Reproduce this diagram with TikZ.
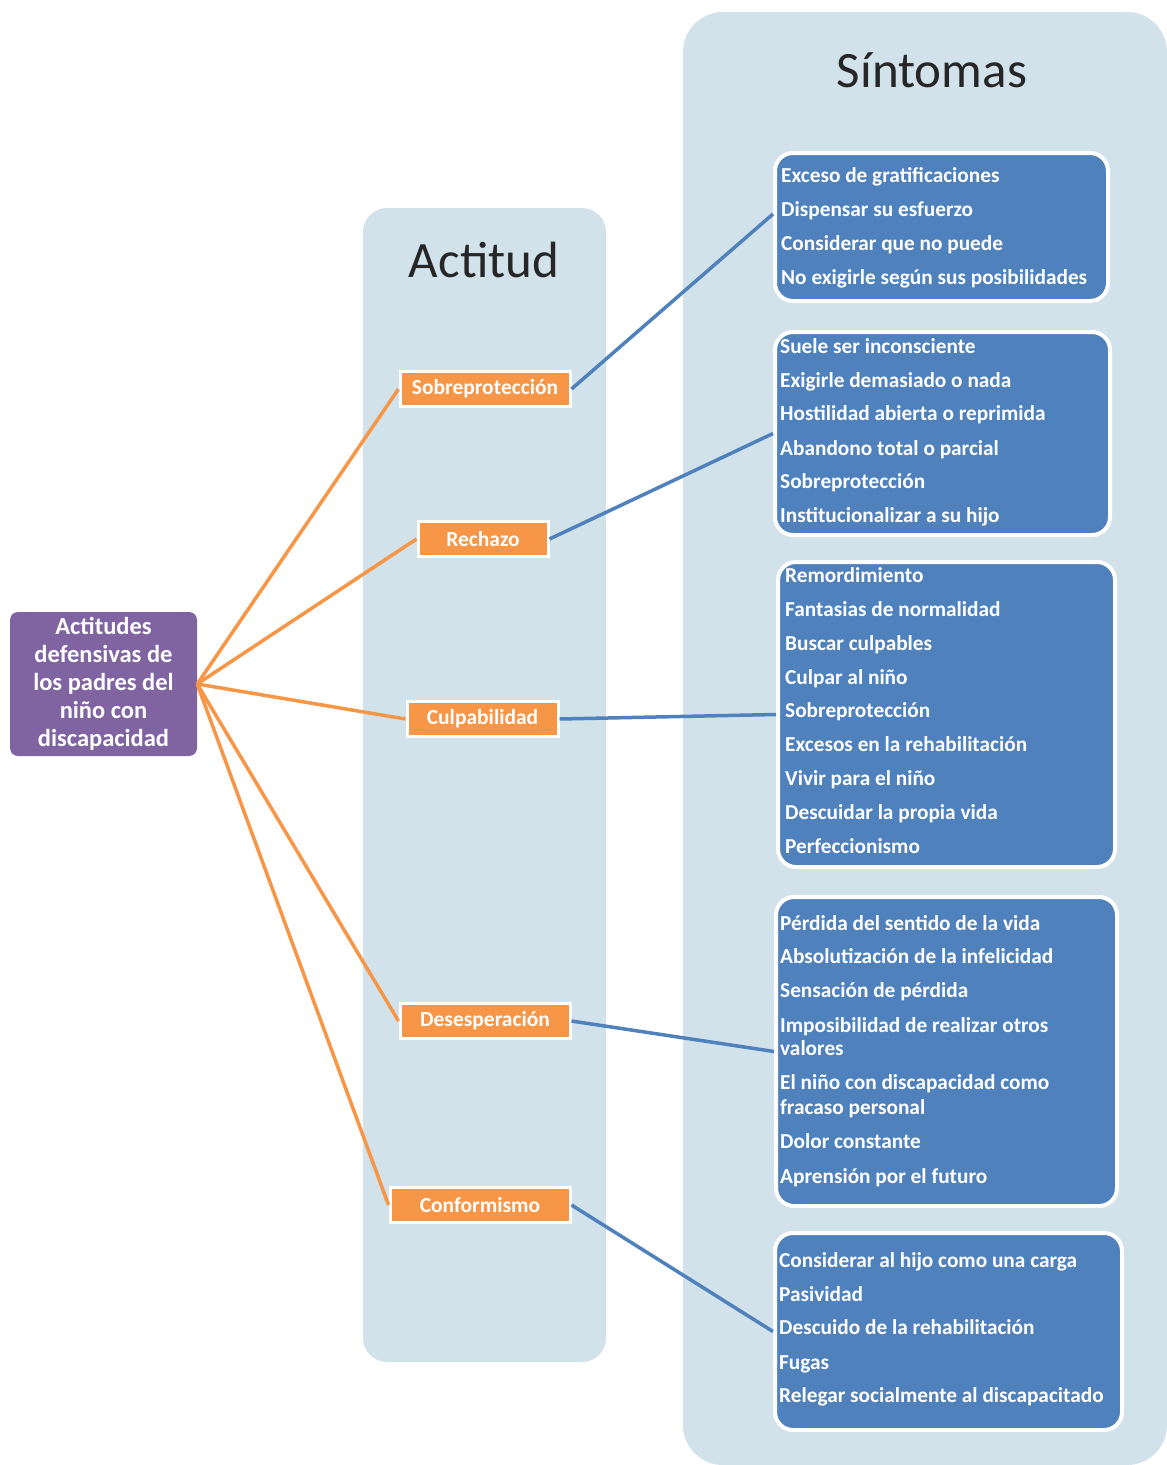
\documentclass[tikz,border=0pt]{standalone}
\usepackage{fontspec}
\setmainfont{Carlito}
\definecolor{panelblue}{RGB}{209,226,234}
\definecolor{rootpurple}{RGB}{128,100,162}
\definecolor{attorange}{RGB}{247,150,70}
\definecolor{symblue}{RGB}{79,129,189}
\begin{document}
\begin{tikzpicture}[x=1pt,y=-1pt,
  panel/.style={fill=panelblue, draw=none},
  paneltitle/.style={font=\fontsize{51}{55}\selectfont, text=black!85, inner sep=0},
  root/.style={fill=rootpurple, rounded corners=8pt, draw=none,
    minimum width=187pt, minimum height=144pt, text=white, align=center,
    font=\bfseries\fontsize{24.5}{28}\selectfont, inner sep=0},
  attbox/.style={fill=attorange, draw=white, line width=3pt, minimum height=35pt,
    text=white, font=\bfseries\fontsize{21.5}{24}\selectfont, inner sep=0},
  symbox/.style={fill=symblue, draw=white, line width=4pt, rounded corners=18pt},
  symline/.style={anchor=west, text=white, inner sep=0, text height=15pt, text depth=4pt,
    font=\bfseries\fontsize{21.3}{23}\selectfont},
  orangelink/.style={draw=attorange, line width=3.5pt},
  bluelink/.style={draw=symblue, line width=3.5pt}]

\useasboundingbox (0,0) rectangle (1167,1465);
\fill[white] (0,0) rectangle (1167,1465);

% background panels
\fill[panel, rounded corners=24pt] (363,208) rectangle (606,1362);
\fill[panel, rounded corners=40pt] (683,12) rectangle (1167,1465);
\node[paneltitle] (tact) at (484,260) {Actitud};
\node[paneltitle] (tsin) at (932,70) {Síntomas};

% root
\node[root] (root) at (103.5,684) {Actitudes\\defensivas de\\los padres del\\niño con\\discapacidad};

% attitudes
\node[attbox, minimum width=170pt] (a1) at (485,389) {Sobreprotección};
\node[attbox, minimum width=130pt] (a2) at (483,539) {Rechazo};
\node[attbox, minimum width=151pt] (a3) at (482.5,719) {Culpabilidad};
\node[attbox, minimum width=170pt] (a4) at (485,1021) {Desesperación};
\node[attbox, minimum width=180pt] (a5) at (480,1205) {Conformismo};

% symptom boxes
\node[symbox, minimum width=333pt, minimum height=148pt] (s1) at (941.5,227) {};
\node[symbox, minimum width=335pt, minimum height=203pt] (s2) at (942.5,433.5) {};
\node[symbox, minimum width=337pt, minimum height=305pt] (s3) at (946.5,714.5) {};
\node[symbox, minimum width=341pt, minimum height=309pt] (s4) at (946.5,1051.5) {};
\node[symbox, minimum width=347pt, minimum height=197pt] (s5) at (948.5,1331.5) {};

% symptom texts
\node[symline] (s1a) at (781,177) {Exceso de gratificaciones};
\node[symline] (s1b) at (781,211) {Dispensar su esfuerzo};
\node[symline] (s1c) at (781,245) {Considerar que no puede};
\node[symline] (s1d) at (781,279) {No exigirle según sus posibilidades};

\node[symline] (s2a) at (780,348) {Suele ser inconsciente};
\node[symline] (s2b) at (780,382) {Exigirle demasiado o nada};
\node[symline] (s2c) at (780,415) {Hostilidad abierta o reprimida};
\node[symline] (s2d) at (780,450) {Abandono total o parcial};
\node[symline] (s2e) at (780,483) {Sobreprotección};
\node[symline] (s2f) at (780,517) {Institucionalizar a su hijo};

\node[symline] (s3a) at (785,577) {Remordimiento};
\node[symline] (s3b) at (785,611) {Fantasias de normalidad};
\node[symline] (s3c) at (785,645) {Buscar culpables};
\node[symline] (s3d) at (785,679) {Culpar al niño};
\node[symline] (s3e) at (785,712) {Sobreprotección};
\node[symline] (s3f) at (785,746) {Excesos en la rehabilitación};
\node[symline] (s3g) at (785,780) {Vivir para el niño};
\node[symline] (s3h) at (785,814) {Descuidar la propia vida};
\node[symline] (s3i) at (785,848) {Perfeccionismo};

\node[symline] (s4a) at (780,925) {Pérdida del sentido de la vida};
\node[symline] (s4b) at (780,958) {Absolutización de la infelicidad};
\node[symline] (s4c) at (780,992) {Sensación de pérdida};
\node[symline] (s4d) at (780,1027) {Imposibilidad de realizar otros};
\node[symline] (s4e) at (780,1050) {valores};
\node[symline] (s4f) at (780,1084) {El niño con discapacidad como};
\node[symline] (s4g) at (780,1109) {fracaso personal};
\node[symline] (s4h) at (780,1143) {Dolor constante};
\node[symline] (s4i) at (780,1178) {Aprensión por el futuro};

\node[symline] (s5a) at (779,1262) {Considerar al hijo como una carga};
\node[symline] (s5b) at (779,1296) {Pasividad};
\node[symline] (s5c) at (779,1329) {Descuido de la rehabilitación};
\node[symline] (s5d) at (779,1364) {Fugas};
\node[symline] (s5e) at (779,1397) {Relegar socialmente al discapacitado};

% connectors root -> attitudes
\draw[orangelink] (root.east) -- (a1.west);
\draw[orangelink] (root.east) -- (a2.west);
\draw[orangelink] (root.east) -- (a3.west);
\draw[orangelink] (root.east) -- (a4.west);
\draw[orangelink] (root.east) -- (a5.west);

% connectors attitudes -> symptoms
\coordinate (e1) at ([yshift=13pt]s1.west);
\draw[bluelink] (a1.east) -- (e1);
\draw[bluelink] (a2.east) -- (s2.west);
\draw[bluelink] (a3.east) -- (s3.west);
\draw[bluelink] (a4.east) -- (s4.west);
\draw[bluelink] (a5.east) -- (s5.west);
\end{tikzpicture}
\end{document}
